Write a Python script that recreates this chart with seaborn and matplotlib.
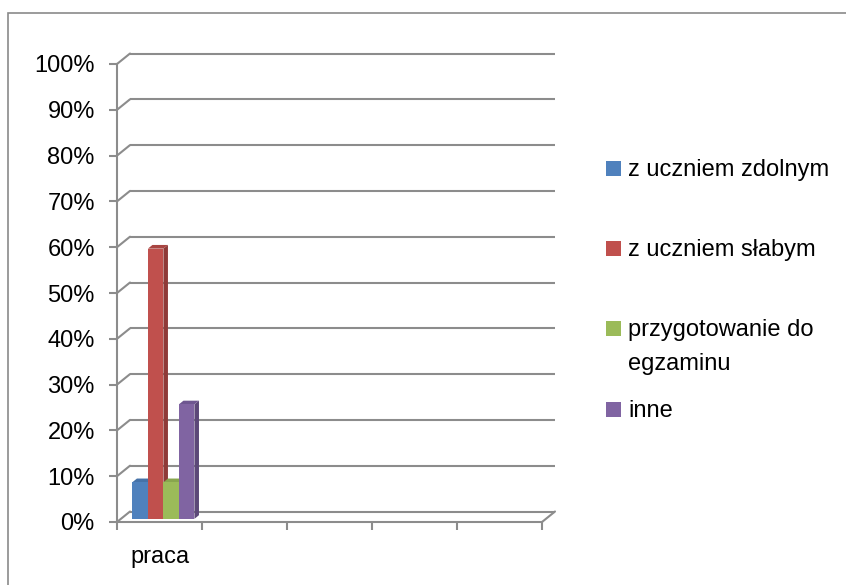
import numpy as np
import pandas as pd
import matplotlib
matplotlib.use("Agg")
import matplotlib.pyplot as plt
from matplotlib.patches import Rectangle, Polygon
from matplotlib.transforms import ScaledTranslation
import seaborn as sns

# ---- data ----
categories = ["praca"]
series = ["z uczniem zdolnym", "z uczniem słabym", "przygotowanie do\negzaminu", "inne"]
values = [8, 59, 8, 25]
colors = ["#4F81BD", "#C0504D", "#9BBB59", "#8064A2"]
side_colors = ["#3B6396", "#8E3A38", "#76903F", "#5C4878"]
top_colors = ["#4672A8", "#A84542", "#88A64E", "#6E5690"]
yticks = [0, 10, 20, 30, 40, 50, 60, 70, 80, 90, 100]
ytick_labels = [f"{v}%" for v in yticks]
n_slots = 5

sns.set_theme(style="white")
plt.rcParams["font.family"] = ["Liberation Sans", "DejaVu Sans"]
FS = 17
GRID = "#8C8C8C"
LW = 1.5

W, H, DPI = 846, 585, 100
fig = plt.figure(figsize=(W / DPI, H / DPI), dpi=DPI)

# axes = front plane of the 3D box
ax_l, ax_r, ax_b, ax_t = 117, 542, 522, 64
ax = fig.add_axes([ax_l / W, 1 - ax_b / H, (ax_r - ax_l) / W, (ax_b - ax_t) / H])

df = pd.DataFrame({"kategoria": categories * len(series),
                   "seria": series,
                   "wartosc": values})
sns.barplot(data=df, x="kategoria", y="wartosc", hue="seria", hue_order=series,
            palette=colors, width=0.73, saturation=1, dodge=True, legend=False,
            ax=ax, linewidth=0)

ax.set_xlim(-0.5, n_slots - 0.5)
ax.set_ylim(0, 100)

px_x = (ax_r - ax_l) / n_slots          # pixels per x data unit
px_y = (ax_b - ax_t) / 100.0            # pixels per y data unit

# back plane offset (pixels)
back_dx, back_dy = 13, 10.5
bdx, bdy = back_dx / px_x, back_dy / px_y

# gridlines on back wall + left wall diagonals
for v in yticks:
    ax.plot([-0.5 + bdx, n_slots - 0.5 + bdx], [v + bdy, v + bdy], color=GRID, lw=LW,
            clip_on=False, zorder=1, solid_capstyle="butt")
    ax.plot([-0.5, -0.5 + bdx], [v, v + bdy], color=GRID, lw=LW, clip_on=False, zorder=1)
# floor right diagonal
ax.plot([n_slots - 0.5, n_slots - 0.5 + bdx], [0, bdy], color=GRID, lw=LW, clip_on=False, zorder=1)

# 3D bars: shift front faces to depth, add side and top faces
front_frac, back_frac = 0.30, 0.65
fdx, fdy = back_dx * front_frac, back_dy * front_frac
ddx = (back_frac - front_frac) * back_dx / px_x
ddy = (back_frac - front_frac) * back_dy / px_y
shift = ScaledTranslation(fdx / DPI, fdy / DPI, fig.dpi_scale_trans)
bars = sorted([p for p in ax.patches if isinstance(p, Rectangle)], key=lambda p: p.get_x())
for i, p in enumerate(bars):
    x0, w, h = p.get_x(), p.get_width(), p.get_height()
    p.set_transform(ax.transData + shift)
    p.set_zorder(3 + 2 * i + 1)
    p.set_clip_on(False)
    side = Polygon([[x0 + w, 0], [x0 + w, h], [x0 + w + ddx, h + ddy], [x0 + w + ddx, ddy]],
                   closed=True, facecolor=side_colors[i], edgecolor="none",
                   transform=ax.transData + shift, zorder=3 + 2 * i, clip_on=False)
    top = Polygon([[x0, h], [x0 + w, h], [x0 + w + ddx, h + ddy], [x0 + ddx, h + ddy]],
                  closed=True, facecolor=top_colors[i], edgecolor="none",
                  transform=ax.transData + shift, zorder=3 + 2 * i, clip_on=False)
    ax.add_patch(side)
    ax.add_patch(top)

# axes styling
for s in ["top", "right"]:
    ax.spines[s].set_visible(False)
for s in ["left", "bottom"]:
    ax.spines[s].set_color(GRID)
    ax.spines[s].set_linewidth(LW)
    ax.spines[s].set_zorder(2)
ax.set_yticks(yticks)
ax.set_yticklabels(ytick_labels, fontsize=FS, color="black")
ax.tick_params(axis="y", left=True, length=6, width=LW, color=GRID, pad=10)
ax.set_xticks([0])
ax.set_xticklabels(categories, fontsize=FS, color="black")
ax.set_xticks(np.arange(-0.5, n_slots, 1.0), minor=True)
ax.tick_params(axis="x", which="major", length=0, pad=17)
ax.tick_params(axis="x", which="minor", bottom=True, length=6, width=LW, color=GRID)
ax.set_xlabel("")
ax.set_ylabel("")
ax.patch.set_alpha(0)

# legend (manual, Excel-like even spacing); y = baseline of first line (px)
leg_base = [176, 256, 336, 417]
line_pitch = 34
for lab, col, yy in zip(series, colors, leg_base):
    fig.patches.append(Rectangle((606 / W, 1 - yy / H), 15 / W, 15 / H,
                                 transform=fig.transFigure, facecolor=col, edgecolor="none"))
    for k, line in enumerate(lab.split("\n")):
        fig.text(628 / W, 1 - (yy + k * line_pitch) / H, line, fontsize=FS,
                 va="baseline", ha="left", color="black")

# outer chart border
fig.patches.append(Rectangle((8 / W, -0.05), 1.0, 1 - 13 / H + 0.05, transform=fig.transFigure,
                             facecolor="none", edgecolor="#8A8A8A", linewidth=1.2))

fig.savefig("out.png", dpi=DPI)
